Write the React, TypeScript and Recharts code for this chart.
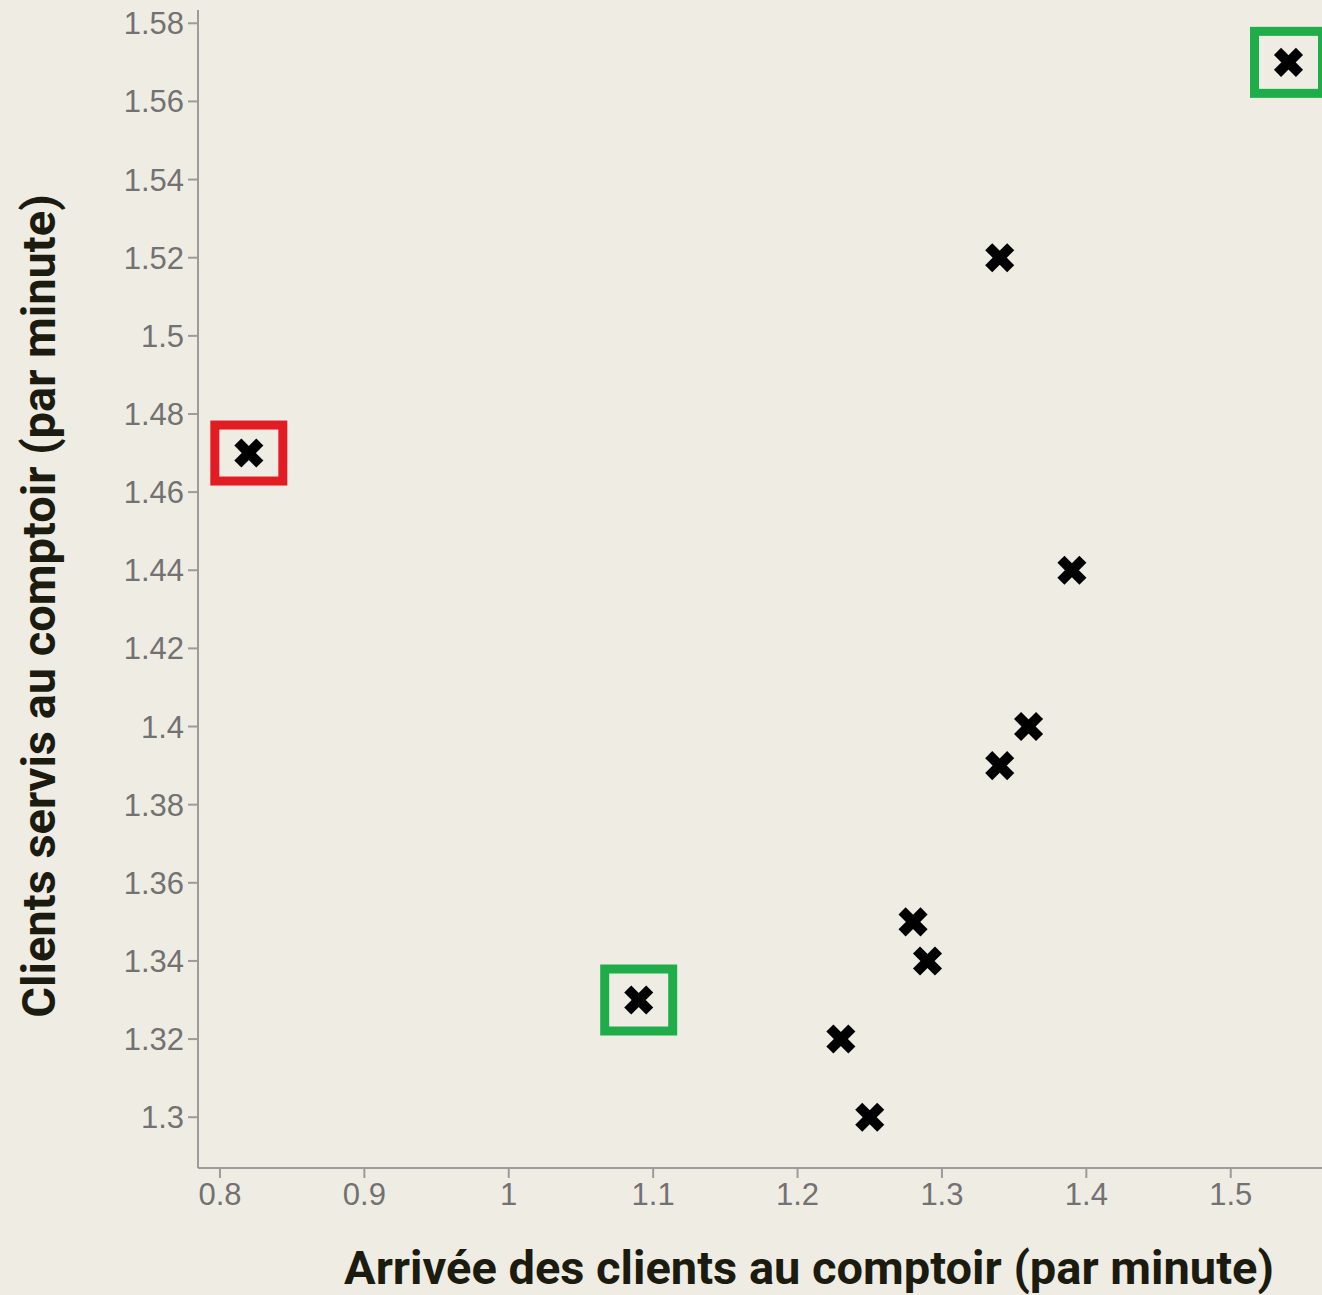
import React from 'react';
import { ScatterChart, Scatter, XAxis, YAxis, Label } from 'recharts';

// Data
const arrivals = [0.82, 1.09, 1.54, 1.34, 1.39, 1.36, 1.34, 1.28, 1.29, 1.23, 1.25];
const served = [1.47, 1.33, 1.57, 1.52, 1.44, 1.4, 1.39, 1.35, 1.34, 1.32, 1.3];
const redHighlightIdx = [0];
const greenHighlightIdx = [1, 2];
const xTicks = [0.8, 0.9, 1, 1.1, 1.2, 1.3, 1.4, 1.5];
const yTicks = [1.3, 1.32, 1.34, 1.36, 1.38, 1.4, 1.42, 1.44, 1.46, 1.48, 1.5, 1.52, 1.54, 1.56, 1.58];
const xTitle = 'Arrivée des clients au comptoir (par minute)';
const yTitle = 'Clients servis au comptoir (par minute)';

const points = arrivals.map((x, i) => ({ x, y: served[i] }));
const redPoints = redHighlightIdx.map((i) => points[i]);
const greenPoints = greenHighlightIdx.map((i) => points[i]);

const BG = '#efece4';
const AXIS = '#9b9b9b';
const TICK_TEXT = '#727272';
const TITLE = '#1b1b10';

const fmt = (v: number) => String(Number(v.toFixed(2)));

const Cross = (props: any) => {
  const { cx, cy } = props;
  if (cx == null || cy == null) return null;
  const a = 11;
  return (
    <g>
      <line x1={cx - a} y1={cy - a} x2={cx + a} y2={cy + a} stroke="#000" strokeWidth={10} />
      <line x1={cx - a} y1={cy + a} x2={cx + a} y2={cy - a} stroke="#000" strokeWidth={10} />
    </g>
  );
};

const makeBox = (color: string, w: number, h: number) => (props: any) => {
  const { cx, cy } = props;
  if (cx == null || cy == null) return null;
  return <rect x={cx - w / 2} y={cy - h / 2} width={w} height={h} fill="none" stroke={color} strokeWidth={9} />;
};

const RedBox = makeBox('#e31b23', 68, 56);
const GreenBox = makeBox('#1fad4a', 68, 62);

const tickStyle = { fill: TICK_TEXT, fontSize: 31, fontFamily: '"Liberation Sans", Arial, sans-serif' };

export default function App() {
  return (
    <div style={{ position: 'absolute', left: 0, top: 0, width: 1322, height: 1295, background: BG, overflow: 'hidden' }}>
      <ScatterChart width={1322} height={1295} margin={{ top: 10, right: 0, bottom: 0, left: 0 }}>
        <XAxis
          type="number"
          dataKey="x"
          domain={[0.7848, 1.5632]}
          allowDataOverflow
          ticks={xTicks}
          tickFormatter={fmt}
          interval={0}
          height={127}
          stroke={AXIS}
          strokeWidth={2}
          tickSize={10}
          tickMargin={5}
          tick={tickStyle}
        >
          <Label
            content={() => (
              <text
                x={809}
                y={1284}
                textAnchor="middle"
                fill={TITLE}
                fontSize={47}
                fontWeight={700}
                fontFamily="Roboto, 'Noto Sans', sans-serif"
              >
                {xTitle}
              </text>
            )}
          />
        </XAxis>
        <YAxis
          type="number"
          dataKey="y"
          domain={[1.287, 1.5834]}
          allowDataOverflow
          ticks={yTicks}
          tickFormatter={fmt}
          interval={0}
          width={198}
          stroke={AXIS}
          strokeWidth={2}
          tickSize={10}
          tickMargin={4}
          tick={tickStyle}
        >
          <Label
            content={() => (
              <text
                x={55}
                y={606}
                transform="rotate(-90 55 606)"
                textAnchor="middle"
                fill={TITLE}
                fontSize={47}
                fontWeight={700}
                fontFamily="Roboto, 'Noto Sans', sans-serif"
              >
                {yTitle}
              </text>
            )}
          />
        </YAxis>
        <Scatter data={redPoints} shape={RedBox} isAnimationActive={false} />
        <Scatter data={greenPoints} shape={GreenBox} isAnimationActive={false} />
        <Scatter data={points} shape={Cross} isAnimationActive={false} />
      </ScatterChart>
    </div>
  );
}
